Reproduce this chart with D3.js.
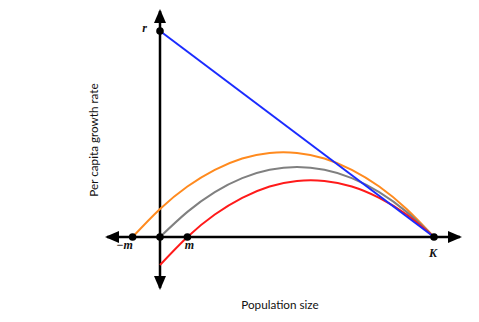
<!DOCTYPE html>
<html>
<head>
<meta charset="utf-8">
<script src="https://cdn.jsdelivr.net/npm/d3@7"></script>
<style>
  body { margin: 0; background: #fff; }
  text { font-family: Lato, sans-serif; fill: #111; }
  .sym { font-family: "Liberation Serif", serif; font-style: italic; font-weight: bold; font-size: 12px; }
</style>
</head>
<body>
<svg width="479" height="322"></svg>
<script>
var svg = d3.select("svg");

// population size (K = 1) and per capita growth rate (r = 1)
var popN    = [-0.1, 0, 0.1, 0.2, 0.3, 0.4, 0.5, 0.6, 0.7, 0.8, 0.9, 1];
var orange  = [0, 0.136, 0.245, 0.326, 0.381, 0.408, 0.408, 0.381, 0.326, 0.245, 0.136, 0];
var gray    = [null, 0, 0.122, 0.218, 0.286, 0.326, 0.34, 0.326, 0.286, 0.218, 0.122, 0];
var red     = [null, -0.136, 0, 0.109, 0.19, 0.245, 0.272, 0.272, 0.245, 0.19, 0.109, 0];
var blueN   = [0, 1];
var blueY   = [1, 0];
var markN   = [-0.1, 0, 0.1, 1];   // -m, 0, m, K on the x axis
var markLab = ["\u2212m", "", "m", "K"];

var x = d3.scaleLinear().domain([0, 1]).range([160, 434]);
var y = d3.scaleLinear().domain([0, 1]).range([237, 31]);

var defs = svg.append("defs");
defs.append("marker")
    .attr("id", "arrow")
    .attr("viewBox", "0 0 14 12")
    .attr("refX", 12).attr("refY", 6)
    .attr("markerWidth", 14).attr("markerHeight", 12)
    .attr("markerUnits", "userSpaceOnUse")
    .attr("orient", "auto-start-reverse")
  .append("path")
    .attr("d", "M0,0 L14,6 L0,12 Z")
    .attr("fill", "#000");

var line = d3.line()
    .defined(function(d) { return d[1] != null; })
    .x(function(d) { return x(d[0]); })
    .y(function(d) { return y(d[1]); })
    .curve(d3.curveNatural);

function pts(vals) { return popN.map(function(n, i) { return [n, vals[i]]; }); }

// axes with arrows at both ends
svg.append("line")
    .attr("x1", 107).attr("x2", 460)
    .attr("y1", y(0)).attr("y2", y(0))
    .attr("stroke", "#000").attr("stroke-width", 2.5)
    .attr("marker-start", "url(#arrow)").attr("marker-end", "url(#arrow)");
svg.append("line")
    .attr("x1", x(0)).attr("x2", x(0))
    .attr("y1", 288).attr("y2", 11)
    .attr("stroke", "#000").attr("stroke-width", 2.5)
    .attr("marker-start", "url(#arrow)").attr("marker-end", "url(#arrow)");

// curves
var curves = [[orange, "#ff8a1e"], [gray, "#808080"], [red, "#ff1a1a"]];
curves.forEach(function(c) {
  svg.append("path")
      .datum(pts(c[0]))
      .attr("d", line)
      .attr("fill", "none")
      .attr("stroke", c[1])
      .attr("stroke-width", 2);
});

svg.append("path")
    .datum(blueN.map(function(n, i) { return [n, blueY[i]]; }))
    .attr("d", line)
    .attr("fill", "none")
    .attr("stroke", "#1a2bff")
    .attr("stroke-width", 2);

// dots
svg.selectAll("circle.m")
    .data(markN)
  .enter().append("circle")
    .attr("cx", function(d) { return x(d); })
    .attr("cy", y(0))
    .attr("r", 3.8)
    .attr("fill", "#000");
svg.append("circle")
    .attr("cx", x(0)).attr("cy", y(1)).attr("r", 3.8).attr("fill", "#000");

svg.selectAll("text.m")
    .data(markN)
  .enter().append("text")
    .attr("class", "sym")
    .attr("x", function(d) { return x(d); })
    .attr("y", function(d, i) { return markLab[i] == "K" ? y(0) + 20 : y(0) + 12; })
    .attr("text-anchor", "middle")
    .attr("dx", function(d, i) { return i == 0 ? -8 : (i == 2 ? 2 : -1); })
    .text(function(d, i) { return markLab[i]; });

svg.append("text")
    .attr("class", "sym")
    .attr("x", x(0) - 15.5).attr("y", y(1) + 1)
    .attr("text-anchor", "middle")
    .text("r");

svg.append("text")
    .attr("x", 280).attr("y", 309)
    .attr("text-anchor", "middle")
    .attr("font-size", 11.7)
    .text("Population size");

svg.append("text")
    .attr("transform", "translate(98,140) rotate(-90)")
    .attr("text-anchor", "middle")
    .attr("font-size", 11.7)
    .text("Per capita growth rate");
</script>
</body>
</html>
